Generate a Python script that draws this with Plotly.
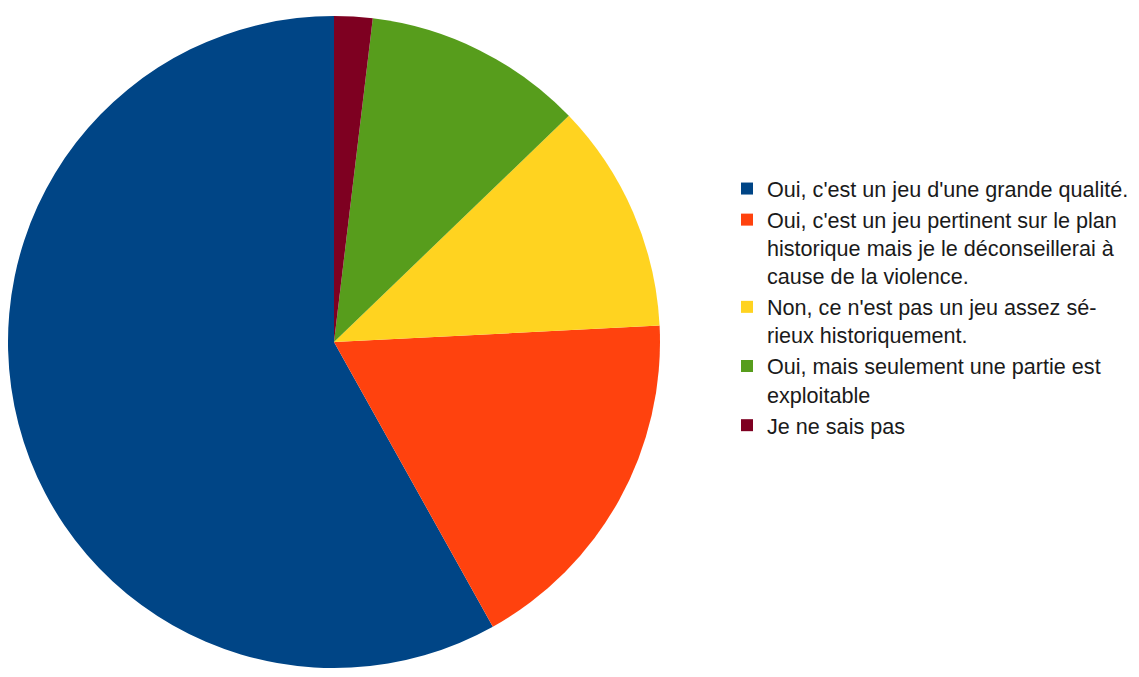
import plotly.graph_objects as go

labels = [
    "Oui, c'est un jeu d'une grande qualité.",
    "Oui, c'est un jeu pertinent sur le plan<br>historique mais je le déconseillerai à<br>cause de la violence.",
    "Non, ce n'est pas un jeu assez sé-<br>rieux historiquement.",
    "Oui, mais seulement une partie est<br>exploitable",
    "Je ne sais pas",
]
values = [58.1, 17.7, 11.4, 10.9, 1.9]
colors = ["#004586", "#ff420e", "#ffd320", "#579d1c", "#7e0021"]

W, H = 1139, 677
cx, cy, r = 326, 334, 326

# counterclockwise from 12 o'clock, first slice starting at the top
start_rot = -360.0 * values[0] / sum(values)

fig = go.Figure(go.Pie(
    labels=labels,
    values=values,
    marker=dict(colors=colors, line=dict(width=0)),
    sort=False,
    direction="counterclockwise",
    rotation=start_rot,
    textinfo="none",
    hoverinfo="label+percent",
    domain=dict(x=[max(0, (cx - r) / W), (cx + r) / W],
                y=[(H - cy - r) / H, (H - cy + r) / H]),
))

fig.update_layout(
    width=W, height=H,
    margin=dict(l=0, r=0, t=0, b=0),
    paper_bgcolor="white",
    plot_bgcolor="white",
    font=dict(family="Liberation Sans, Arial, sans-serif", size=21.6, color="#1a1a1a"),
    legend=dict(
        x=(719) / W, y=1 - 160 / H,
        xanchor="left", yanchor="top",
        font=dict(size=21.6),
        valign="top",
        itemclick=False,
        tracegroupgap=0,
    ),
    showlegend=True,
)

fig.write_html("out.html")
